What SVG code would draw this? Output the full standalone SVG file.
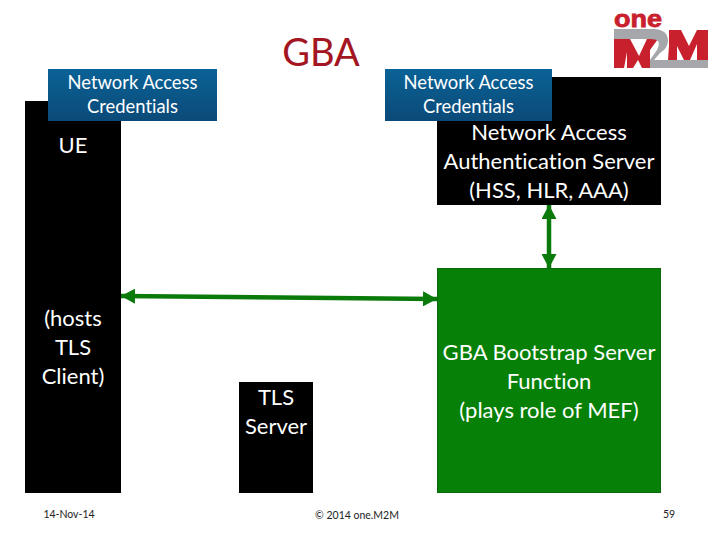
<svg xmlns="http://www.w3.org/2000/svg" width="720" height="540" viewBox="0 0 720 540">
<defs>
<linearGradient id="blue" x1="0" y1="0" x2="0" y2="1"><stop offset="0" stop-color="#0a6296"/><stop offset="1" stop-color="#0b4a78"/></linearGradient>
<marker id="arrowEnd" markerUnits="userSpaceOnUse" markerWidth="14" markerHeight="15" refX="14" refY="7.500" orient="auto"><path d="M0 0L14 7.500L0 15Z" fill="#0a7a0a"/></marker>
<marker id="arrowStart" markerUnits="userSpaceOnUse" markerWidth="14" markerHeight="15" refX="0" refY="7.500" orient="auto"><path d="M14 0L0 7.500L14 15Z" fill="#0a7a0a"/></marker>
</defs>
<style>
text{font-family:Lato,"Open Sans","Liberation Sans",sans-serif;text-anchor:middle;font-variant-ligatures:none}
.l{font-size:22px;fill:#fff}
.c{font-size:18.400px;fill:#fff}
.f{font-size:10.500px;fill:#222}
.k{fill:#000}
.conn{stroke:#0a7a0a;stroke-width:4.500;fill:none;marker-start:url(#arrowStart);marker-end:url(#arrowEnd)}
</style>
<rect width="720" height="540" fill="#fff"/>
<text id="title" x="321" y="66" style="font-size:38px;fill:#a31621">GBA</text>
<g id="logo">
<text x="638" y="27" textLength="48" lengthAdjust="spacingAndGlyphs" style="font-size:24px;font-weight:900;fill:#c8202c;font-family:'Liberation Sans',sans-serif;stroke:#c8202c;stroke-width:.8">one</text>
<path d="M614 39H630L639 56L647 39H658L650 50V68H642L638 60L633 68H627V52L624 68H614Z" fill="#c8202c"/>
<path d="M669 30H681L689 46L697 30H708V60H697V44L690 60H684L677 46V60H668L669 46Z" fill="#c8202c"/>
<path d="M614 29H655Q668 30 668 41Q668 48 660 53L654 60H708V68H650V60L657 50Q660 44 658 41Q656 39 650 39H614Z" fill="#a5a7aa"/>
</g>
<g id="ue">
<rect class="k" x="25" y="101" width="96" height="392"/>
<text class="l" x="73" y="153">UE</text>
<text class="l" x="73" y="326">(hosts</text>
<text class="l" x="73" y="355">TLS</text>
<text class="l" x="73" y="384">Client)</text>
</g>
<g id="cred1">
<rect x="48" y="69" width="169" height="52" fill="url(#blue)"/>
<text class="c" x="132.500" y="89">Network Access</text>
<text class="c" x="132.500" y="113">Credentials</text>
</g>
<g id="nas">
<rect class="k" x="437" y="77" width="224" height="128"/>
<text class="l" x="549" y="140">Network Access</text>
<text class="l" x="549" y="169">Authentication Server</text>
<text class="l" x="549" y="198">(HSS, HLR, AAA)</text>
</g>
<g id="cred2">
<rect x="385" y="69" width="167" height="52" fill="url(#blue)"/>
<text class="c" x="468.500" y="89">Network Access</text>
<text class="c" x="468.500" y="113">Credentials</text>
</g>
<g id="bsf">
<rect x="437.500" y="268.500" width="223" height="224" fill="#078007" stroke="#0a6a0a"/>
<text class="l" x="549" y="360">GBA Bootstrap Server</text>
<text class="l" x="549" y="389">Function</text>
<text class="l" x="549" y="418">(plays role of MEF)</text>
</g>
<g id="tls">
<rect class="k" x="239" y="382" width="74" height="111"/>
<text class="l" x="276" y="405">TLS</text>
<text class="l" x="276" y="434">Server</text>
</g>
<g id="connectors">
<line class="conn" x1="549" y1="205" x2="549" y2="268"/>
<line class="conn" x1="121" y1="296" x2="437" y2="299"/>
</g>
<g id="footer">
<text class="f" x="69" y="518">14-Nov-14</text>
<text class="f" x="357" y="519">© 2014 one.M2M</text>
<text class="f" x="669" y="518">59</text>
</g>
</svg>
